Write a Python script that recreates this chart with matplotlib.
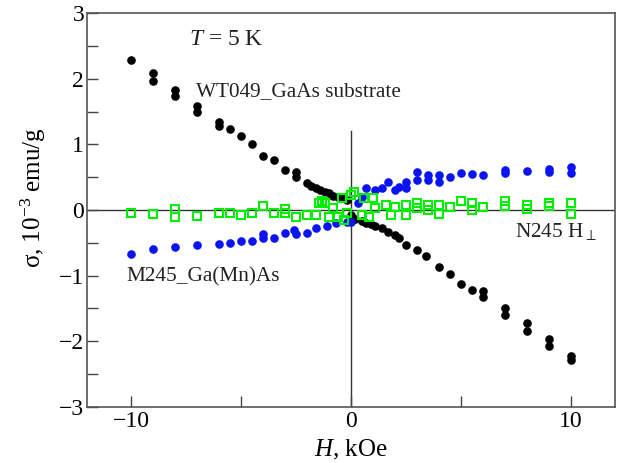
import matplotlib
matplotlib.use('Agg')
import matplotlib.pyplot as plt
from matplotlib.ticker import FixedLocator

plt.rcParams['font.family'] = 'Liberation Serif'
plt.rcParams['mathtext.fontset'] = 'custom'
plt.rcParams['mathtext.rm'] = 'Liberation Serif'
plt.rcParams['mathtext.it'] = 'Liberation Serif:italic'

# WT049 GaAs substrate (black)
wt_h = [-10, -9, -9, -8, -8, -7, -7, -6, -6, -5.5, -5, -4.5, -4, -3.5, -3,
        -2.5, -2.5, -2, -1.8, -1.6, -1.4, -1.2, -1.0, -0.8, -0.6, -0.4, -0.2, 0, 0.2, 0.5,
        0.7, 0.9, 1.1, 1.4, 1.7, 2.0, 2.2, 2.5, 3.0, 3.4, 4.0, 4.5, 5.0, 5.5, 6,
        6, 7, 7, 8, 8, 9, 9, 10, 10]
wt_s = [2.28, 2.09, 1.97, 1.82, 1.74, 1.58, 1.50, 1.34, 1.28, 1.23, 1.13, 1.00, 0.82, 0.76, 0.61,
        0.58, 0.51, 0.41, 0.37, 0.33, 0.31, 0.28, 0.26, 0.22, 0.20, 0.18, 0.15, -0.08, -0.13, -0.17,
        -0.20, -0.22, -0.25, -0.28, -0.33, -0.38, -0.43, -0.53, -0.61, -0.70, -0.87, -0.97, -1.12, -1.22, -1.24,
        -1.33, -1.50, -1.60, -1.72, -1.84, -1.97, -2.07, -2.22, -2.28]

# M245 Ga(Mn)As (blue)
m_h = [-10, -9, -8, -7, -6, -5.5, -5, -4.5, -4, -4, -3.5, -3, -2.6, -2.5, -2,
       -1.6, -1.1, -0.7, -0.2, 0, 0.3, 0.5, 0.7, 1.1, 1.4, 1.7, 2.0, 2.2, 2.5, 2.5,
       3, 3, 3.5, 3.5, 4, 4, 4.5, 5, 5.5, 6, 7, 7, 8, 9, 9, 10, 10]
m_s = [-0.67, -0.60, -0.56, -0.54, -0.52, -0.50, -0.47, -0.47, -0.36, -0.43, -0.43, -0.35, -0.31, -0.36, -0.35,
       -0.28, -0.25, -0.20, -0.18, -0.18, 0.10, 0.20, 0.33, 0.30, 0.33, 0.43, 0.30, 0.35, 0.43, 0.33,
       0.58, 0.46, 0.53, 0.46, 0.53, 0.42, 0.50, 0.56, 0.55, 0.53, 0.61, 0.56, 0.60, 0.63, 0.58, 0.66, 0.57]

# N245 H perp (green squares)
n_h = [-10, -9, -8, -8, -7, -6, -5.5, -5, -4.5, -4, -3.5, -3, -3, -2.5, -2,
       -1.6, -1.45, -1.2, -1.0, -0.8, -0.6, -0.4, -0.3, -0.2, 0.15, 0.5, 0.6, 0.8, 1.0, 1.1,
       1.6, 1.8, 2.0, 2.5, 2.5, 3, 3, 3.5, 3.5, 4, 4, 4.5, 5, 5.5, 5.5,
       6, 7, 7, 8, 8, 9, 9, 10, 10, 0, -1.3]
n_s = [-0.05, -0.06, 0.01, -0.11, -0.09, -0.05, -0.05, -0.08, -0.05, 0.06, -0.05, 0.01, -0.05, -0.10, -0.08,
       -0.08, 0.10, 0.10, -0.10, 0.03, -0.10, 0.18, -0.15, -0.05, 0.28, -0.08, 0.18, -0.10, 0.18, 0.03,
       0.08, -0.08, 0.05, 0.08, -0.08, 0.11, 0.03, 0.08, 0.00, 0.08, -0.06, 0.04, 0.14, 0.11, 0.00,
       0.04, 0.13, 0.06, 0.08, 0.01, 0.10, 0.06, 0.10, -0.06, 0.23, 0.13]

fig = plt.figure(figsize=(6.23, 4.63), dpi=100)
ax = fig.add_axes([0.1396, 0.121, 0.8476, 0.8509])

ax.axhline(0, color='#333333', lw=1, zorder=1)
ax.plot([0, 0], [-3, 1.2], color='#333333', lw=1, zorder=1)

ax.plot(wt_h, wt_s, 'o', color='black', ms=6.2, mec='none', zorder=2)
ax.plot(m_h, m_s, 'o', color='#0a14f0', ms=6.2, mec='none', zorder=3)
ax.plot(n_h, n_s, 's', mfc='none', mec='#00ee00', ms=5.3, mew=1.5, zorder=4)

ax.set_xlim(-12, 12)
ax.set_ylim(-3, 3)
ax.xaxis.set_major_locator(FixedLocator([-10, 0, 10]))
ax.xaxis.set_minor_locator(FixedLocator([-5, 5]))
ax.yaxis.set_major_locator(FixedLocator([-3, -2, -1, 0, 1, 2, 3]))
ax.yaxis.set_minor_locator(FixedLocator([-2.5, -1.5, -0.5, 0.5, 1.5, 2.5]))
ax.set_xticklabels(['\u221210', '0', '10'])
ax.set_yticklabels(['\u22123', '\u22122', '\u22121', '0', '1', '2', '3'])
ax.tick_params(which='both', direction='in', length=8, width=1, color='#444444',
               labelsize=17, top=False, right=False)
ax.tick_params(axis='x', pad=3)
ax.tick_params(axis='y', pad=2)
for s in ax.spines.values():
    s.set_color('#555555')
    s.set_linewidth(1.2)

ax.set_xlabel('$H$, kOe', fontsize=18, labelpad=4)
ax.set_ylabel('\u03c3, 10$^{\u22123}$ emu/g', fontsize=18)
ax.yaxis.set_label_coords(-0.073, 0.53)

ax.text(-7.35, 2.59, '$T$ = 5 K', fontsize=17, va='center', ha='left', color='#222222')
ax.text(-7.05, 1.80, 'WT049_GaAs substrate', fontsize=15.3, va='center', ha='left', color='#222222')
ax.text(7.45, -0.32, 'N245 H$_{\\perp}$', fontsize=15.3, va='center', ha='left', color='#222222')
ax.text(-10.2, -1.02, 'M245_Ga(Mn)As', fontsize=15.3, va='center', ha='left', color='#222222')

fig.savefig('out.png', dpi=100)
